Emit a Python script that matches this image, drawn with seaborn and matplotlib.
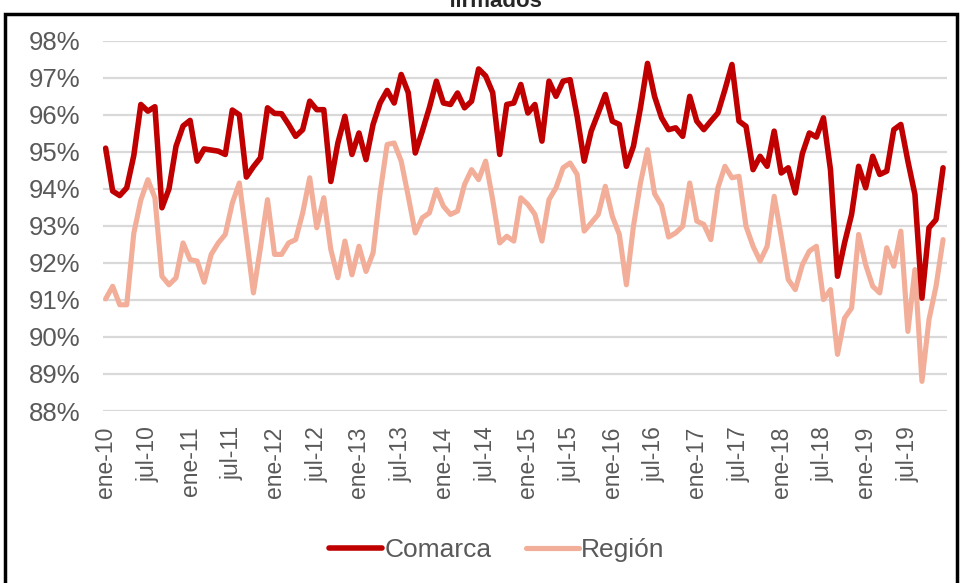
# %%
import matplotlib.pyplot as plt
import pandas as pd
import seaborn as sns
from matplotlib.patches import Rectangle
from matplotlib.ticker import PercentFormatter

# Monthly series, ene-10 .. dic-19 (values in %)
comarca = [
    95.10, 93.94, 93.82, 94.03, 94.90, 96.28, 96.10, 96.22, 93.49, 94.00, 95.15, 95.70,
    95.85, 94.75, 95.08, 95.05, 95.02, 94.93, 96.13, 96.00, 94.32, 94.60, 94.84, 96.19,
    96.04, 96.03, 95.74, 95.42, 95.60, 96.37, 96.14, 96.14, 94.20, 95.24, 95.96, 94.93,
    95.51, 94.79, 95.74, 96.32, 96.66, 96.32, 97.09, 96.60, 94.97, 95.56, 96.19, 96.91,
    96.32, 96.28, 96.59, 96.19, 96.37, 97.24, 97.05, 96.60, 94.93, 96.28, 96.32, 96.82,
    96.05, 96.28, 95.29, 96.91, 96.50, 96.91, 96.95, 95.96, 94.75, 95.56, 96.05, 96.55,
    95.83, 95.74, 94.61, 95.15, 96.19, 97.39, 96.50, 95.92, 95.60, 95.65, 95.42, 96.50,
    95.83, 95.60, 95.83, 96.05, 96.68, 97.36, 95.83, 95.69, 94.52, 94.88, 94.61, 95.56,
    94.43, 94.57, 93.89, 94.95, 95.51, 95.40, 95.92, 94.52, 91.64, 92.54, 93.31, 94.61,
    94.03, 94.88, 94.39, 94.48, 95.60, 95.74, 94.75, 93.85, 91.05, 92.95, 93.17, 94.57,
]
region = [
    91.03, 91.37, 90.87, 90.87, 92.80, 93.70, 94.25, 93.76, 91.64, 91.41, 91.60, 92.54,
    92.09, 92.05, 91.48, 92.23, 92.54, 92.77, 93.62, 94.16, 92.70, 91.19, 92.41, 93.71,
    92.23, 92.23, 92.54, 92.63, 93.35, 94.30, 92.95, 93.76, 92.36, 91.60, 92.59, 91.68,
    92.45, 91.77, 92.27, 93.89, 95.20, 95.24, 94.75, 93.80, 92.81, 93.22, 93.35, 93.98,
    93.53, 93.31, 93.40, 94.12, 94.52, 94.25, 94.75, 93.71, 92.54, 92.72, 92.59, 93.76,
    93.58, 93.31, 92.59, 93.71, 94.03, 94.57, 94.70, 94.39, 92.86, 93.08, 93.31, 94.07,
    93.26, 92.77, 91.41, 92.99, 94.16, 95.06, 93.87, 93.55, 92.70, 92.81, 92.99, 94.16,
    93.13, 93.04, 92.63, 94.03, 94.61, 94.30, 94.34, 92.99, 92.45, 92.05, 92.45, 93.80,
    92.72, 91.55, 91.28, 91.95, 92.32, 92.45, 91.01, 91.28, 89.53, 90.51, 90.78, 92.77,
    91.95, 91.37, 91.19, 92.41, 91.91, 92.86, 90.15, 91.82, 88.80, 90.47, 91.37, 92.63,
]
tick_labels = [
    "ene-10", "jul-10", "ene-11", "jul-11", "ene-12", "jul-12", "ene-13", "jul-13",
    "ene-14", "jul-14", "ene-15", "jul-15", "ene-16", "jul-16", "ene-17", "jul-17",
    "ene-18", "jul-18", "ene-19", "jul-19",
]

sns.set_style("white")
plt.rcParams["font.family"] = ["Liberation Sans", "DejaVu Sans"]

df = pd.DataFrame({"mes": range(len(comarca)), "Comarca": comarca, "Región": region})

fig = plt.figure(figsize=(9.61, 5.83), dpi=100)
ax = fig.add_axes([0.107, 0.295, 0.878, 0.635])

# Región first so Comarca sits on top where they cross
sns.lineplot(data=df, x="mes", y="Región", color="#F2AE98", linewidth=3.7, label="Región", ax=ax)
sns.lineplot(data=df, x="mes", y="Comarca", color="#C00000", linewidth=4.0, label="Comarca", ax=ax)

ax.set_xlim(-0.4, 119.5)
ax.set_ylim(88, 98)
ax.set_yticks(range(88, 99))
ax.yaxis.set_major_formatter(PercentFormatter(decimals=0))
ax.set_xticks(range(0, len(comarca), 6))
ax.set_xticklabels(tick_labels, rotation=90)
ax.set_xlabel("")
ax.set_ylabel("")
ax.yaxis.grid(True, color="#D9D9D9", linewidth=1.6)
ax.set_axisbelow(True)
sns.despine(ax=ax, left=True, bottom=True)
ax.tick_params(axis="both", length=0, colors="#595959")
ax.tick_params(axis="y", pad=16, labelsize=18.5)
ax.tick_params(axis="x", pad=11, labelsize=16.5)

handles, labels = ax.get_legend_handles_labels()
ax.legend(
    handles[::-1], labels[::-1],
    loc="center", bbox_to_anchor=(0.517, 0.057), bbox_transform=fig.transFigure,
    ncol=2, frameon=False, handlelength=2.0, handletextpad=0.1,
    columnspacing=1.3, fontsize=19, labelcolor="#595959",
)

# Cut-off title and chart frame
fig.text(0.516, 0.988, "firmados", ha="center", va="baseline", fontweight="bold", fontsize=16)
fig.add_artist(Rectangle((5 / 961, -0.05), 952 / 961, 1 - 14 / 583 + 0.05,
                         transform=fig.transFigure, fill=False, lw=2.5, ec="black"))

fig.savefig("out.png", dpi=100)
